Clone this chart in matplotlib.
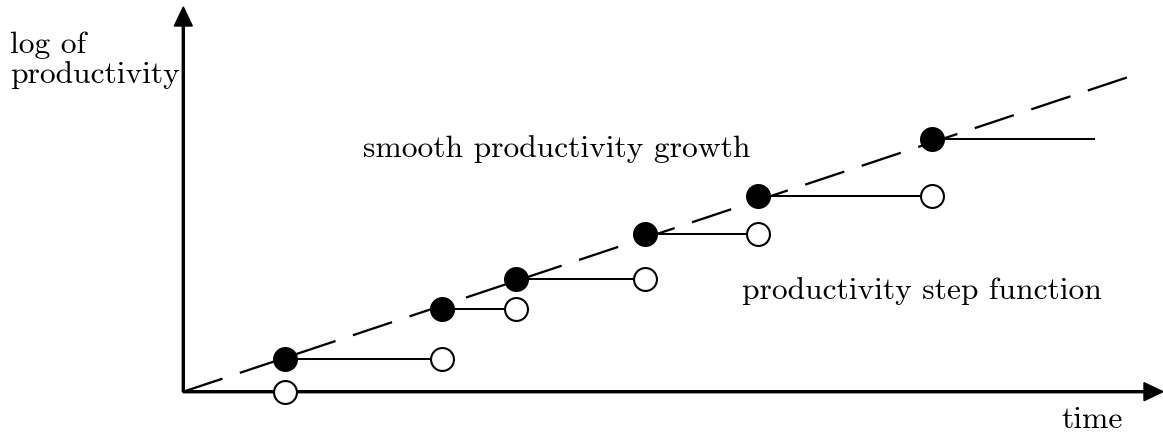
import matplotlib

matplotlib.use("Agg")
import matplotlib.pyplot as plt

# jump dates of the step function and the level reached at each jump
jump_t = [1.02, 2.59, 3.33, 4.62, 5.75, 7.49]
level = [0.33, 0.83, 1.13, 1.58, 1.96, 2.53]
base_level = 0.0
last_t = 9.11

# smooth trend (dashed line)
trend_t = [0.0, 9.46]
trend_y = [0.0, 3.15]

plt.rcParams["font.family"] = ["cmr10", "DejaVu Serif"]
plt.rcParams["axes.formatter.use_mathtext"] = True

fig = plt.figure(figsize=(11.63, 4.33), dpi=100, facecolor="white")
ax = fig.add_axes([0, 0, 1, 1])
ax.set_xlim(-1.833, 9.797)
ax.set_ylim(-0.413, 3.917)
ax.axis("off")

# axes with arrow heads
ax.arrow(0, 0, 9.797, 0, width=0.02, head_width=0.18, head_length=0.19,
         length_includes_head=True, color="black", zorder=3)
ax.arrow(0, 0, 0, 3.847, width=0.02, head_width=0.18, head_length=0.19,
         length_includes_head=True, color="black", zorder=3)

# dashed smooth growth
ax.plot(trend_t, trend_y, color="black", lw=1.65, dashes=(18, 8), zorder=2)

# step function
prev = [base_level] + level[:-1]
ends = jump_t[1:] + [last_t]
for t0, t1, h in zip(jump_t, ends, level):
    ax.plot([t0, t1], [h, h], color="black", lw=1.45, zorder=2)

ax.plot(jump_t, prev, "o", ms=16.5, mfc="white", mec="black", mew=1.5, zorder=4)
ax.plot(jump_t, level, "o", ms=16.5, mfc="black", mec="black", mew=1.5, zorder=5)

fs = 22.7
ax.text(1.797, 2.347, "smooth productivity growth", fontsize=fs, va="baseline", ha="left")
ax.text(5.587, 0.924, "productivity step function", fontsize=fs, va="baseline", ha="left")
ax.text(8.784, -0.363, "time", fontsize=fs, va="baseline", ha="left")
ax.text(-1.733, 3.39, "log of", fontsize=fs, va="baseline", ha="left")
ax.text(-1.733, 3.09, "productivity", fontsize=fs, va="baseline", ha="left")

fig.savefig("out.png", dpi=100, facecolor="white")
